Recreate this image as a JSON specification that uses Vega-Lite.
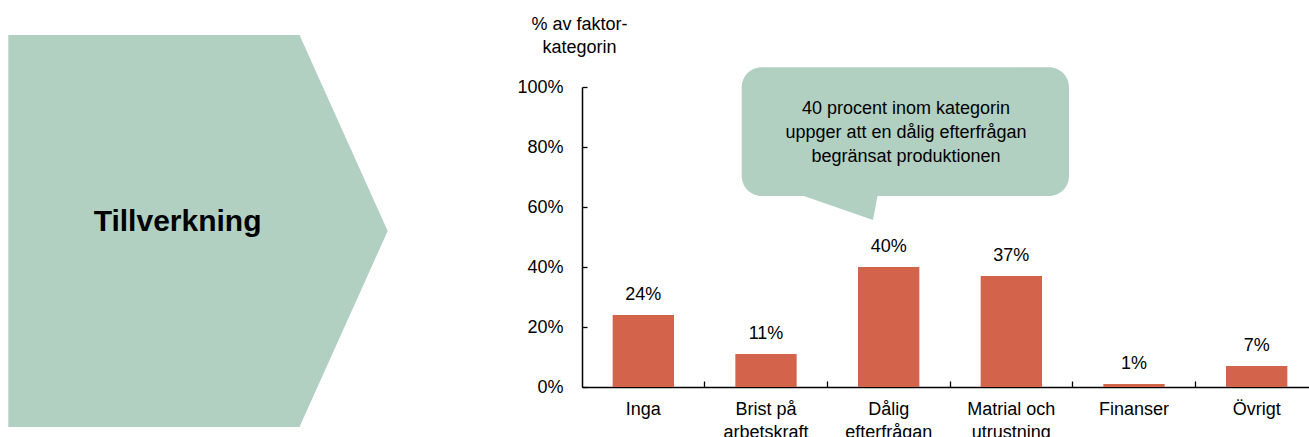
{
  "$schema": "https://vega.github.io/schema/vega-lite/v6.json",
  "width": 727,
  "height": 300,
  "autosize": {"type": "none"},
  "padding": {"left": 582, "top": 87, "right": 0, "bottom": 50},
  "background": "white",
  "config": {"view": {"stroke": null}, "font": "Liberation Sans"},
  "datasets": {
    "bars": [
      {"kategori": "Inga", "andel": 0.24},
      {"kategori": "Brist på|arbetskraft", "andel": 0.11},
      {"kategori": "Dålig|efterfrågan", "andel": 0.40},
      {"kategori": "Matrial och|utrustning", "andel": 0.37},
      {"kategori": "Finanser", "andel": 0.01},
      {"kategori": "Övrigt", "andel": 0.07}
    ],
    "chevron": [
      {"u": -4.677, "top": 1.1733, "bottom": -0.1333},
      {"u": -2.303, "top": 1.1733, "bottom": -0.1333},
      {"u": -1.584, "top": 0.52, "bottom": 0.52}
    ],
    "bubble": [
      {"u1": 1.302, "u2": 3.970, "top": 1.0657, "bottom": 0.6367}
    ],
    "tail": [
      {"u": 1.750, "top": 0.645, "bottom": 0.645},
      {"u": 2.372, "top": 0.645, "bottom": 0.5567},
      {"u": 2.413, "top": 0.645, "bottom": 0.645}
    ],
    "rubrik": [
      {"u": -3.297, "p": 0.55, "text": "Tillverkning"}
    ],
    "callout": [
      {"u": 2.641, "p": 0.9267, "text": "40 procent inom kategorin|uppger att en dålig efterfrågan|begränsat produktionen"}
    ]
  },
  "resolve": {"scale": {"x": "independent", "y": "independent"}},
  "layer": [
    {
      "layer": [
        {
          "data": {"name": "chevron"},
          "mark": {"type": "area", "color": "#b2d0c2", "opacity": 1},
          "encoding": {
            "x": {"field": "u", "type": "quantitative", "scale": {"domain": [0, 6], "range": [0, 736], "nice": false, "zero": false}, "axis": null},
            "y": {"field": "top", "type": "quantitative", "scale": {"domain": [0, 1], "nice": false, "zero": false}, "axis": null},
            "y2": {"field": "bottom"}
          }
        },
        {
          "data": {"name": "bubble"},
          "mark": {"type": "rect", "color": "#b2d0c2", "cornerRadius": 20},
          "encoding": {
            "x": {"field": "u1", "type": "quantitative", "scale": {"domain": [0, 6], "range": [0, 736], "nice": false, "zero": false}, "axis": null},
            "x2": {"field": "u2"},
            "y": {"field": "top", "type": "quantitative", "scale": {"domain": [0, 1], "nice": false, "zero": false}, "axis": null},
            "y2": {"field": "bottom"}
          }
        },
        {
          "data": {"name": "tail"},
          "mark": {"type": "area", "color": "#b2d0c2", "opacity": 1},
          "encoding": {
            "x": {"field": "u", "type": "quantitative", "scale": {"domain": [0, 6], "range": [0, 736], "nice": false, "zero": false}, "axis": null},
            "y": {"field": "top", "type": "quantitative", "scale": {"domain": [0, 1], "nice": false, "zero": false}, "axis": null},
            "y2": {"field": "bottom"}
          }
        },
        {
          "data": {"name": "rubrik"},
          "mark": {"type": "text", "fontSize": 30, "fontWeight": "bold", "align": "center", "baseline": "middle", "color": "#000"},
          "encoding": {
            "x": {"field": "u", "type": "quantitative", "scale": {"domain": [0, 6], "range": [0, 736], "nice": false, "zero": false}, "axis": null},
            "y": {"field": "p", "type": "quantitative", "scale": {"domain": [0, 1], "nice": false, "zero": false}, "axis": null},
            "text": {"field": "text", "type": "nominal"}
          }
        },
        {
          "data": {"name": "callout"},
          "mark": {"type": "text", "fontSize": 18, "align": "center", "baseline": "middle", "lineBreak": "|", "lineHeight": 24, "color": "#000"},
          "encoding": {
            "x": {"field": "u", "type": "quantitative", "scale": {"domain": [0, 6], "range": [0, 736], "nice": false, "zero": false}, "axis": null},
            "y": {"field": "p", "type": "quantitative", "scale": {"domain": [0, 1], "nice": false, "zero": false}, "axis": null},
            "text": {"field": "text", "type": "nominal"}
          }
        }
      ]
    },
    {
      "data": {"name": "bars"},
      "encoding": {
        "x": {
          "field": "kategori", "type": "nominal", "sort": null,
          "scale": {"range": [0, 736], "paddingInner": 0.5, "paddingOuter": 0.25},
          "axis": {
            "title": null, "labelAngle": 0, "labelExpr": "split(datum.label, '|')",
            "labelFontSize": 18, "labelColor": "#000", "labelLineHeight": 23, "labelPadding": 19,
            "tickSize": -6, "tickColor": "#000", "tickWidth": 1.3, "bandPosition": 1.5,
            "domainColor": "#000", "domainWidth": 1.5
          }
        },
        "y": {
          "field": "andel", "type": "quantitative",
          "scale": {"domain": [0, 1], "nice": false},
          "axis": {
            "title": ["% av faktor-", "kategorin"], "titleAngle": 0, "titleAlign": "center", "titleBaseline": "middle",
            "titleX": -3, "titleY": -62.5, "titleFontSize": 18, "titleFontWeight": "normal", "titleColor": "#000", "titleLineHeight": 23,
            "values": [0, 0.2, 0.4, 0.6, 0.8, 1], "format": ".0%",
            "labelFontSize": 18, "labelColor": "#000", "labelPadding": 24,
            "tickSize": -5, "tickColor": "#000", "tickWidth": 1.3,
            "domainColor": "#000", "domainWidth": 1.5, "grid": false
          }
        }
      },
      "layer": [
        {"mark": {"type": "bar", "color": "#d4634b"}},
        {
          "mark": {"type": "text", "baseline": "middle", "dy": -20, "fontSize": 18, "color": "#000"},
          "encoding": {"text": {"field": "andel", "type": "quantitative", "format": ".0%"}}
        }
      ]
    }
  ]
}
